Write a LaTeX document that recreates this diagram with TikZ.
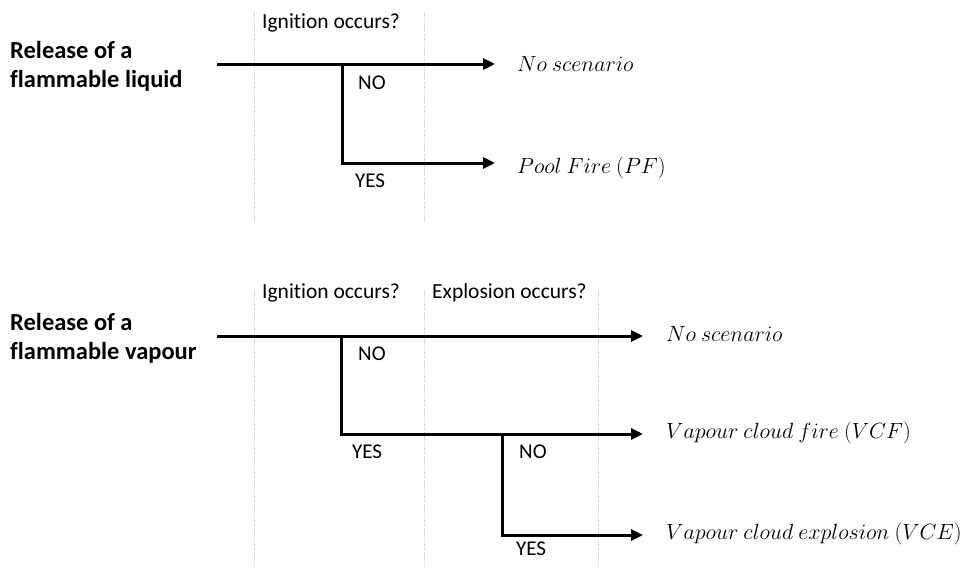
\RequirePackage{fix-cm}
\documentclass[tikz,border=0pt]{standalone}
\usepackage{fontspec}
\setmainfont{Carlito}[Ligatures=CommonOff]
\usetikzlibrary{arrows.meta}
\begin{document}
\begin{tikzpicture}[x=1pt,y=-1pt,
  flow/.style={line width=3pt, line join=miter, -{Triangle[length=12pt,width=11pt]}},
  guide/.style={draw=black!22, line width=0.8pt, dash pattern=on 1.2pt off 1.2pt},
  head/.style={font=\fontsize{24.5}{29}\selectfont\bfseries, align=left, anchor=north west, inner sep=0pt},
  question/.style={font=\fontsize{21.5}{25}\selectfont, anchor=base west, inner sep=0pt},
  answer/.style={font=\fontsize{21}{25}\selectfont, anchor=base west, inner sep=0pt},
  outcome/.style={font=\fontsize{22}{26}\selectfont, anchor=base west, inner sep=0pt},
]
\useasboundingbox (0,0) rectangle (965,571);

% ---------- Event tree 1: flammable liquid ----------
\draw[guide] (254,12) -- (254,221);
\draw[guide] (424,12) -- (424,221);
\node[question] (q1) at (262,28) {Ignition occurs?};
\node[head] (h1) at (10,41) {Release of a\\flammable liquid};

\coordinate (s1) at (217,64);
\coordinate (b1) at (342,64);
\coordinate (e1) at (495,64);
\coordinate (e2) at (495,163);
\draw[flow] (s1) -- (e1);
\draw[flow] (b1) |- (e2);
\node[answer] (n1) at (358,89) {NO};
\node[answer] (y1) at (355,187) {YES};
\node[outcome] (o1) at (517,71) {$No\ scenario$};
\node[outcome] (o2) at (517,173) {$Pool\ Fire\ (PF)$};

% ---------- Event tree 2: flammable vapour ----------
\draw[guide] (254,290) -- (254,568);
\draw[guide] (424,290) -- (424,568);
\draw[guide] (598,290) -- (598,568);
\node[question] (q2) at (262,298) {Ignition occurs?};
\node[question] (q3) at (432,298) {Explosion occurs?};
\node[head] (h2) at (10,313) {Release of a\\flammable vapour};

\coordinate (s2) at (217,336);
\coordinate (b2) at (341,336);
\coordinate (b3) at (502,434);
\coordinate (e3) at (643,336);
\coordinate (e4) at (643,434);
\coordinate (e5) at (643,535);
\draw[flow] (s2) -- (e3);
\draw[flow] (b2) |- (e4);
\draw[flow] (b3) |- (e5);
\node[answer] (n2) at (358,360) {NO};
\node[answer] (y2) at (352,458) {YES};
\node[answer] (n3) at (519,458) {NO};
\node[answer] (y3) at (516,555) {YES};
\node[outcome] (o3) at (666,341) {$No\ scenario$};
\node[outcome] (o4) at (666,438) {$Vapour\ cloud\ fire\ (VCF)$};
\node[outcome] (o5) at (666,539) {$Vapour\ cloud\ explosion\ (VCE)$};
\end{tikzpicture}
\end{document}
